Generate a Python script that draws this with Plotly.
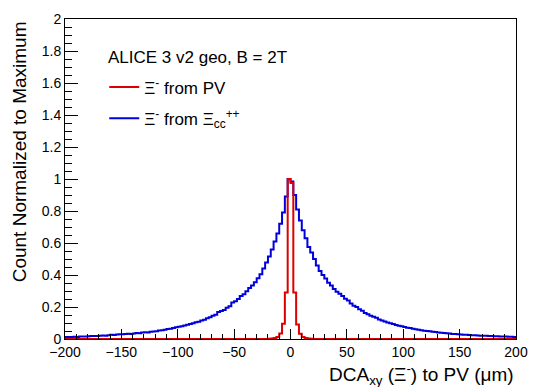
import numpy as np
import plotly.graph_objects as go

# ---- data: DCA_xy histograms, 160 bins of 2.5 um from -200 to 200 um ----
x_min, x_max, n_bins = -200.0, 200.0, 160

# Xi- from Xi_cc++ (blue), bins from -200 to 0
blue_left = [
    0.012, 0.013, 0.012, 0.014, 0.013, 0.015, 0.016, 0.015, 0.017, 0.018,
    0.019, 0.018, 0.021, 0.022, 0.021, 0.024, 0.026, 0.025, 0.028, 0.030,
    0.029, 0.031, 0.033, 0.032, 0.035, 0.037, 0.036, 0.040, 0.042, 0.041,
    0.045, 0.047, 0.049, 0.053, 0.055, 0.058, 0.062, 0.064, 0.068, 0.073,
    0.077, 0.080, 0.084, 0.089, 0.093, 0.098, 0.104, 0.108, 0.115, 0.121,
    0.130, 0.136, 0.146, 0.152, 0.168, 0.175, 0.182, 0.196, 0.205, 0.228,
    0.236, 0.250, 0.268, 0.279, 0.298, 0.318, 0.334, 0.355, 0.380, 0.405,
    0.440, 0.478, 0.515, 0.560, 0.610, 0.660, 0.720, 0.790, 0.890, 1.000,
]
# bins from 0 to 200
blue_right = [
    0.985, 0.900, 0.810, 0.740, 0.680, 0.630, 0.575, 0.540, 0.500, 0.460,
    0.425, 0.400, 0.378, 0.352, 0.335, 0.312, 0.296, 0.283, 0.268, 0.252,
    0.240, 0.222, 0.208, 0.200, 0.186, 0.176, 0.162, 0.155, 0.146, 0.139,
    0.133, 0.122, 0.115, 0.110, 0.103, 0.098, 0.094, 0.088, 0.083, 0.080,
    0.075, 0.071, 0.068, 0.064, 0.061, 0.058, 0.055, 0.052, 0.050, 0.048,
    0.045, 0.043, 0.041, 0.039, 0.037, 0.036, 0.034, 0.032, 0.031, 0.029,
    0.028, 0.027, 0.026, 0.025, 0.024, 0.023, 0.022, 0.021, 0.020, 0.020,
    0.019, 0.018, 0.017, 0.017, 0.016, 0.015, 0.015, 0.014, 0.014, 0.013,
]
# Xi- from PV (red): central bins from -20 to 20 um, empty elsewhere
red_core = [
    0.002, 0.003, 0.006, 0.012, 0.035, 0.095, 0.290, 1.000,
    0.975, 0.290, 0.090, 0.033, 0.012, 0.006, 0.003, 0.002,
]
red_empty_side = [0.0] * 72

blue_vals = blue_left + blue_right
red_vals = red_empty_side + red_core + red_empty_side

edges = np.linspace(x_min, x_max, n_bins + 1)

label_red = "Ξ<sup>-</sup> from PV"
label_blue = "Ξ<sup>-</sup> from Ξ<sub>cc</sub><sup>++</sup>"
header_text = "ALICE 3 v2 geo, B = 2T"
x_title = "DCA<sub>xy</sub> (Ξ<sup>-</sup>) to PV (μm)"
y_title = "Count Normalized to Maximum"

FONT = "Liberation Sans, Arial, Helvetica, sans-serif"

fig = go.Figure()
fig.add_trace(go.Scatter(
    x=edges, y=blue_vals + [blue_vals[-1]], mode="lines", line_shape="hv",
    line=dict(color="#0000dd", width=2), name=label_blue, legendrank=2,
    legendgroup="b",
))
fig.add_trace(go.Scatter(
    x=edges, y=red_vals + [red_vals[-1]], mode="lines", line_shape="hv",
    line=dict(color="#dd0000", width=2), name=label_red, legendrank=1,
    legendgroup="a",
))

axis_common = dict(
    showgrid=False, zeroline=False, showline=True, linecolor="black",
    linewidth=1, mirror=True, ticks="inside", tickcolor="black",
    tickwidth=1, tickfont=dict(family=FONT, size=14, color="black"),
)

fig.update_layout(
    width=539, height=387,
    margin=dict(l=65, r=15, t=11, b=48),
    paper_bgcolor="white", plot_bgcolor="white",
    font=dict(family=FONT, color="black"),
    xaxis=dict(range=[x_min, x_max], dtick=50, ticklen=10,
               minor=dict(ticks="inside", dtick=10, ticklen=5,
                          tickcolor="black"),
               **axis_common),
    yaxis=dict(range=[0, 2], dtick=0.2, ticklen=13,
               minor=dict(ticks="inside", dtick=0.05, ticklen=7,
                          tickcolor="black"),
               **axis_common),
    showlegend=True,
    legend=dict(x=0.087, y=0.842, xanchor="left", yanchor="top",
                bgcolor="rgba(0,0,0,0)", font=dict(family=FONT, size=17),
                tracegroupgap=6, traceorder="grouped"),
    annotations=[
        dict(text=header_text, xref="paper", yref="paper",
             x=(107 - 65) / 459, y=(339 - 50) / 328,
             xanchor="left", yanchor="middle", showarrow=False,
             font=dict(family=FONT, size=17)),
        dict(text=x_title, xref="paper", yref="paper",
             x=1.0, y=(339 - 375) / 328, xanchor="right", yanchor="middle",
             showarrow=False, font=dict(family=FONT, size=19)),
        dict(text=y_title, xref="paper", yref="paper", textangle=-90,
             x=(19 - 65) / 459, y=1.0, xanchor="center", yanchor="top",
             showarrow=False, font=dict(family=FONT, size=19)),
    ],
)

fig.write_html("out.html",
               config={"displayModeBar": False},
               post_script="document.body.style.margin='0';"
                           "document.body.style.padding='0';")
